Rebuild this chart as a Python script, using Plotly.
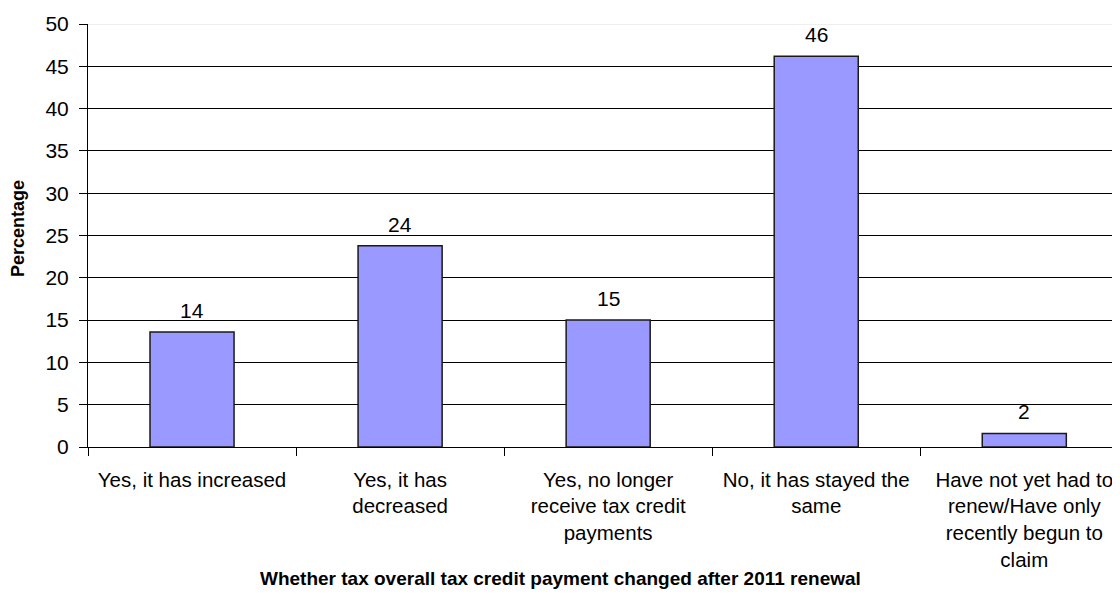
import plotly.graph_objects as go

categories = [
    "Yes, it has increased",
    "Yes, it has<br>decreased",
    "Yes, no longer<br>receive tax credit<br>payments",
    "No, it has stayed the<br>same",
    "Have not yet had to<br>renew/Have only<br>recently begun to<br>claim",
]
values = [13.6, 23.8, 15.0, 46.2, 1.6]
value_labels = ["14", "24", "15", "46", "2"]
y_ticks = [0, 5, 10, 15, 20, 25, 30, 35, 40, 45, 50]
x_title = "Whether tax overall tax credit payment changed after 2011 renewal"
y_title = "Percentage"

FONT = "Liberation Sans, Arial, sans-serif"
xs = list(range(len(categories)))

fig = go.Figure()
fig.add_trace(go.Bar(
    x=xs, y=values,
    marker=dict(color="#9999FF", line=dict(color="#1a1a1a", width=1.5)),
    width=0.404, showlegend=False, hoverinfo="x+y",
))
for x, v, lab in zip(xs, values, value_labels):
    fig.add_annotation(x=x, y=v, text=lab, showarrow=False, yanchor="bottom",
                       yshift=8, font=dict(size=21, color="black", family=FONT))

# page body has an 8px default margin, so the figure is sized to fill the rest
fig.update_layout(
    width=1112, height=604,
    margin=dict(l=80, r=0, t=16, b=165, autoexpand=False),
    paper_bgcolor="white", plot_bgcolor="white",
    font=dict(family=FONT, color="black"),
)
fig.update_xaxes(
    range=[-0.5, 4.46], tickvals=xs, ticktext=categories,
    tickfont=dict(size=20.5), ticks="", showgrid=False,
    showline=True, linecolor="black", linewidth=1,
    minor=dict(tick0=0.5, dtick=1, ticks="outside", ticklen=8, tickcolor="black", showgrid=False),
    ticklabelstandoff=14, automargin=False, zeroline=False,
)
fig.update_yaxes(
    range=[0, 50], tickvals=y_ticks, tickfont=dict(size=21),
    ticks="outside", ticklen=8, tickcolor="black",
    showgrid=True, gridcolor="black", gridwidth=1,
    showline=True, linecolor="black", linewidth=1, zeroline=False,
    automargin=False, ticklabelstandoff=6,
)
fig.add_shape(type="line", xref="paper", yref="y", x0=0, x1=1, y0=y_ticks[-1], y1=y_ticks[-1],
              line=dict(color="#dddddd", width=1), layer="above")
fig.add_annotation(xref="paper", yref="paper", x=(560 - 88) / 1032, y=-(578 - 447) / 423,
                   text="<b>" + x_title + "</b>", showarrow=False,
                   font=dict(size=19, color="black", family=FONT), xanchor="center", yanchor="middle")
fig.add_annotation(xref="paper", yref="paper", x=-(88 - 18) / 1032, y=(447 - 229) / 423,
                   text="<b>" + y_title + "</b>", showarrow=False, textangle=-90,
                   font=dict(size=18, color="black", family=FONT), xanchor="center", yanchor="middle")

fig.write_html("out.html")
